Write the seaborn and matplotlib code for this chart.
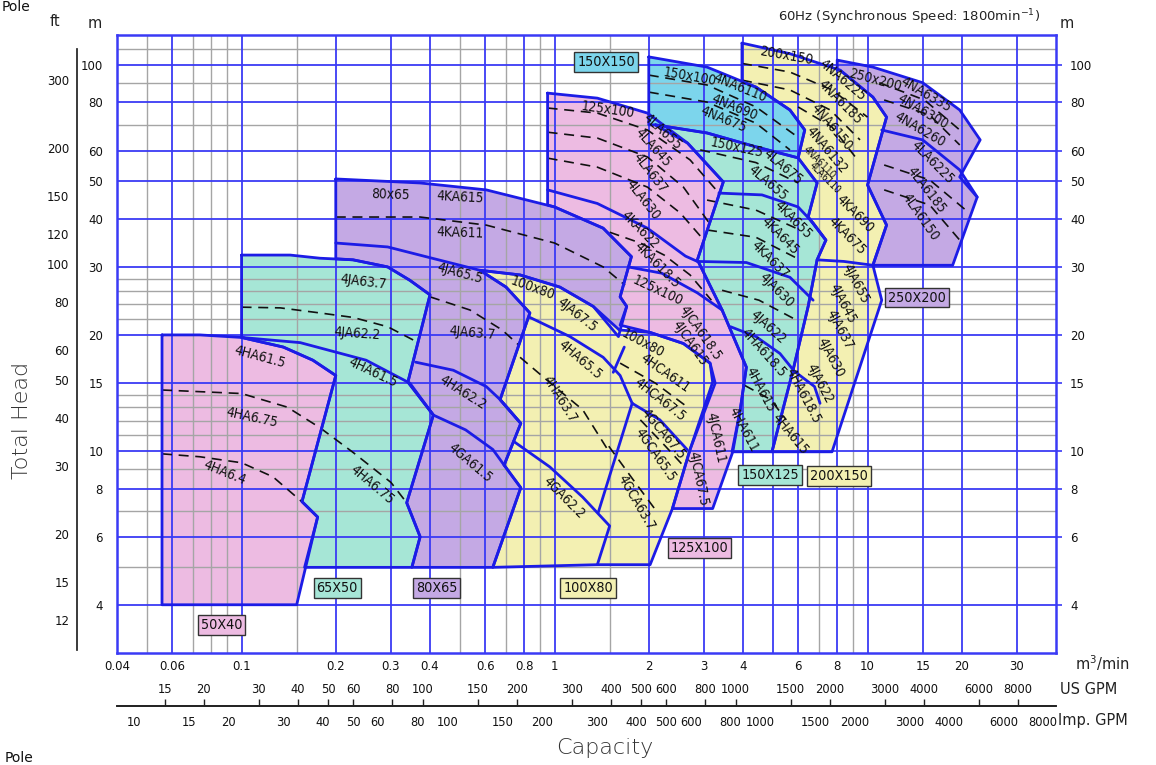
#!/usr/bin/env python3
"""Pump selection chart, 60 Hz / 4 pole: capacity against total head."""

import matplotlib
matplotlib.use("Agg")
import matplotlib.pyplot as plt
import seaborn as sns

sns.set_theme(style="white")
plt.rcParams["font.family"] = ["DejaVu Sans"]

# colours
PINK = "#EDBBE2"
TEAL = "#A6E6D6"
PURPLE = "#C4A9E4"
YELLOW = "#F3F0B2"
SKY = "#7CD5EC"
LINE = "#1C1CE6"
GRID_BLUE = "#3A3AF5"
GRID_GREY = "#A5A5A5"
LABEL_FONT = ["DejaVu Sans"]

M_TO_FT = 3.28084
M3MIN_TO_USGPM = 264.172
M3MIN_TO_IMPGPM = 219.969

# ---- axes scales --------------------------------------------------------
Q_BLUE = [0.06, 0.1, 0.2, 0.3, 0.4, 0.6, 0.8, 1, 2, 3, 4, 5, 6, 8, 10, 15, 20, 30]
Q_GREY = [0.05, 0.07, 0.08, 0.09, 0.15, 0.5, 0.7, 0.9, 1.5, 7, 9]
H_BLUE = [4, 6, 8, 10, 15, 20, 30, 40, 50, 60, 80, 100]
H_GREY = [5, 7, 9, 11, 12, 13, 14, 22, 24, 26, 28, 70, 90, 110]
Q_TICKS = [0.04, 0.06, 0.1, 0.2, 0.3, 0.4, 0.6, 0.8, 1, 2, 3, 4, 6, 8, 10, 15, 20, 30]
Q_LABELS = ["0.04", "0.06", "0.1", "0.2", "0.3", "0.4", "0.6", "0.8", "1", "2", "3",
            "4", "6", "8", "10", "15", "20", "30"]
H_TICKS = [4, 6, 8, 10, 15, 20, 30, 40, 50, 60, 80, 100]
FT_TICKS = [12, 15, 20, 30, 40, 50, 60, 80, 100, 120, 150, 200, 300]
US_GPM_TICKS = [15, 20, 30, 40, 50, 60, 80, 100, 150, 200, 300, 400, 500, 600, 800,
                1000, 1500, 2000, 3000, 4000, 6000, 8000]
IMP_GPM_TICKS = [10, 15, 20, 30, 40, 50, 60, 80, 100, 150, 200, 300, 400, 500, 600,
                 800, 1000, 1500, 2000, 3000, 4000, 6000, 8000]

# ---- 50X40 (capacity m3/min, head m) --------------------------------------
A50_AREA = [(0.0557, 20), (0.0736, 20), (0.1, 19.7), (0.136, 18.6), (0.169, 17.2),
            (0.2, 15.7), (0.156, 7.4), (0.175, 6.75), (0.15, 4.0), (0.0557, 4.0)]
A50_DASH_675 = [(0.0557, 14.4), (0.1, 14.1), (0.14, 13.0), (0.178, 11.5), (0.228, 9.9),
                (0.3, 8.3), (0.337, 7.35)]
A50_DASH_64 = [(0.0557, 9.84), (0.0736, 9.67), (0.1, 9.33), (0.126, 8.58), (0.156, 7.39)]

# ---- 65X50 --------------------------------------------------------------
B65_AREA = [(0.1, 32.2), (0.143, 32.2), (0.178, 31.6), (0.227, 31.3), (0.293, 30.0),
            (0.345, 27.7), (0.4, 25.4), (0.34, 15.1), (0.41, 12.4), (0.337, 7.35),
            (0.372, 6.0), (0.35, 5.0), (0.159, 5.0), (0.175, 6.75), (0.156, 7.4),
            (0.2, 15.7), (0.169, 17.2), (0.136, 18.6), (0.1, 19.7)]
B65_HA615 = [(0.1, 19.7), (0.154, 19.1), (0.25, 17.2), (0.345, 15.0), (0.41, 12.4)]
B65_DASH_JA622 = [(0.1, 23.6), (0.133, 23.5), (0.178, 22.8), (0.227, 22.2), (0.293, 21.0),
                  (0.367, 19.1)]

# ---- 80X65 --------------------------------------------------------------
C80_AREA = [(0.2, 50.7), (0.372, 49.5), (0.605, 47.5), (1.0, 42.9), (1.43, 37.8),
            (1.76, 31.9), (1.62, 25.1), (1.70, 23.7), (1.60, 19.8), (1.33, 23.7),
            (1.04, 26.6), (0.776, 28.6), (0.578, 29.4), (0.7, 26.6), (0.834, 22.8),
            (0.67, 13.6), (0.78, 11.8), (0.69, 9.2), (0.78, 8.04), (0.635, 5.0),
            (0.35, 5.0), (0.372, 6.0), (0.337, 7.35), (0.41, 12.4), (0.34, 15.1),
            (0.4, 25.4), (0.345, 27.7), (0.293, 30.0), (0.227, 31.3), (0.2, 31.5)]
C80_JA655 = [(0.2, 34.6), (0.293, 33.8), (0.4, 31.7), (0.578, 29.4)]
C80_HA622 = [(0.36, 17.0), (0.475, 16.2), (0.605, 14.7), (0.67, 13.6), (0.78, 11.8)]
C80_GA615 = [(0.41, 12.4), (0.52, 11.35), (0.635, 10.1), (0.69, 9.2)]
C80_DASH_KA611 = [(0.2, 40.4), (0.372, 40.4), (0.605, 38.5), (1.0, 34.6), (1.43, 30.0),
                  (1.68, 26.9)]
C80_DASH_JA637 = [(0.4, 25.1), (0.537, 23.2), (0.68, 20.6), (0.77, 18.8)]

# ---- 100X80 -------------------------------------------------------------
D100_AREA = [(0.578, 29.4), (0.776, 28.6), (1.04, 26.6), (1.33, 23.7), (1.61, 20.6),
             (2.02, 20.3), (2.58, 19.0), (3.14, 16.9), (3.26, 15.0), (2.71, 10.1),
             (2.38, 7.1), (2.02, 5.08), (1.37, 5.08), (0.635, 5.0), (0.78, 8.04),
             (0.69, 9.2), (0.78, 11.8), (0.67, 13.6), (0.834, 22.8), (0.7, 26.6)]
D100_HA655 = [(0.834, 22.2), (1.12, 19.8), (1.43, 17.5), (1.62, 15.7), (1.77, 13.3)]
D100_JA_EDGE = [(1.67, 18.6), (1.54, 16.0)]
D100_HA_EDGE = [(1.77, 13.3), (1.38, 6.95)]
D100_GA622 = [(0.74, 10.6), (0.966, 9.1), (1.23, 7.6), (1.5, 6.4), (1.37, 5.08)]
D100_GCA675 = [(1.77, 13.3), (2.17, 12.05), (2.65, 10.1)]
D100_DASH_HA637 = [(0.776, 17.5), (1.0, 14.7), (1.23, 12.8), (1.5, 9.9)]
D100_DASH_HCA675 = [(1.62, 16.9), (2.1, 15.0), (2.66, 13.0)]
D100_DASH_GCA655 = [(1.88, 12.05), (2.26, 10.3), (2.6, 9.1)]
D100_DASH_GCA637 = [(1.49, 10.3), (1.77, 8.5), (2.1, 7.05)]

# ---- 125X100 ------------------------------------------------------------
E125_AREA = [(0.95, 84.6), (1.37, 82.1), (1.98, 75.1), (2.66, 62.8), (3.46, 49.8),
             (2.86, 31.3), (3.43, 23.2), (4.1, 16.5), (3.92, 12.8), (3.71, 9.96),
             (3.2, 7.1), (2.38, 7.1), (2.71, 10.1), (3.2, 15.1), (3.14, 16.9),
             (2.58, 19.0), (2.02, 20.3), (1.62, 21.2), (1.70, 23.7), (1.62, 25.1),
             (1.76, 31.9), (1.43, 37.8), (1.0, 42.9), (0.95, 43.4)]
E125_KA622 = [(0.95, 47.5), (1.37, 43.8), (1.98, 37.8), (2.62, 32.0), (2.86, 31.0)]
E125_JCA = [(1.72, 30.0), (2.2, 28.9), (2.86, 25.7), (3.43, 23.2)]
E125_DASH_LA645 = [(0.95, 77.4), (1.37, 75.1), (1.98, 67.9), (2.71, 56.8), (3.35, 46.6)]
E125_DASH_LA637 = [(0.95, 67.0), (1.37, 64.7), (1.98, 57.8), (2.58, 48.3), (3.12, 39.0)]
E125_DASH_LA630 = [(0.95, 57.4), (1.37, 54.4), (1.98, 48.3), (2.52, 41.4), (3.0, 35.2)]
E125_DASH_KA6185 = [(1.5, 36.9), (1.88, 34.6), (2.24, 32.2), (2.71, 28.6), (3.17, 24.6)]

# ---- 150X100 ------------------------------------------------------------
F150_AREA = [(2.0, 105), (3.07, 98.8), (4.4, 87.7), (5.65, 76.5), (6.3, 67.9),
             (6.0, 57.5), (4.4, 61.4), (3.07, 66.7), (2.1, 70), (2.0, 70)]
F150_DASH_NA690 = [(2.0, 94.2), (3.07, 88.8), (4.4, 77.9), (6.0, 65.0)]
F150_DASH_NA675 = [(2.0, 85.1), (3.07, 80.2), (4.4, 70.7), (5.65, 60.3)]

# ---- 150X125 ------------------------------------------------------------
G150_AREA = [(2.1, 70), (3.07, 66.7), (4.4, 61.4), (6.0, 57.5), (6.9, 49.5),
             (6.46, 40.4), (7.36, 35.2), (6.9, 31.3), (6.46, 23.7), (5.78, 16.2),
             (4.95, 9.96), (3.69, 9.96), (3.92, 12.8), (4.1, 16.5), (3.43, 23.2),
             (2.86, 31.3), (3.46, 49.8), (2.66, 62.8)]
G150_KA655 = [(3.35, 46.6), (4.6, 46.1), (6.0, 42.9), (6.7, 39.0), (7.36, 35.2)]
G150_JA630 = [(2.86, 31.0), (4.1, 30.8), (5.65, 28.2), (6.7, 24.6)]
G150_HA6185 = [(3.65, 21.0), (4.4, 19.8), (5.25, 17.9), (5.8, 16.2)]
G150_DASH_LA655 = [(2.92, 60.3), (4.4, 55.9), (6.0, 49.5)]
G150_DASH_KA645 = [(3.07, 44.7), (4.4, 42.1), (6.08, 37.4)]
G150_DASH_KA637 = [(3.07, 37.4), (4.4, 35.8), (6.08, 31.3)]
G150_DASH_JA622 = [(3.43, 26.1), (4.5, 24.6), (5.9, 21.9)]
G150_DASH_HA615 = [(4.05, 14.8), (4.9, 13.6), (5.5, 12.05)]

# ---- 200X150 ------------------------------------------------------------
H200_AREA = [(3.97, 114), (5.65, 107), (8.17, 97), (10.4, 82.6), (11.5, 73.3),
             (10.0, 48.9), (11.5, 38.5), (10.4, 30.3), (11.1, 24.6), (7.7, 9.96),
             (4.95, 9.96), (5.78, 16.2), (6.46, 23.7), (6.9, 31.3), (7.36, 35.2),
             (6.46, 40.4), (6.9, 49.5), (6.0, 57.5), (6.3, 67.9), (5.65, 76.5),
             (4.4, 87.7), (3.97, 90.4)]
H200_JA655 = [(6.9, 31.3), (8.4, 31.0), (10.4, 30.3)]
H200_HA6185 = [(5.78, 16.2), (6.77, 14.7), (7.05, 13.3)]
H200_DASH_A = [(3.97, 101), (5.65, 95.9), (7.7, 86.2), (10.0, 73.3)]
H200_DASH_B = [(3.97, 91.4), (5.65, 86.2), (7.6, 76.5), (9.46, 64.0)]
H200_DASH_C = [(6.0, 77.9), (7.7, 69.1), (9.14, 57.8)]

# ---- 250X200 ------------------------------------------------------------
I250_AREA = [(8.0, 103), (10.4, 98.8), (15.0, 90), (19.7, 76.5), (22.9, 64),
             (19.7, 51.3), (22.4, 45.5), (18.7, 30.3), (10.4, 30.3), (11.5, 38.5),
             (10.0, 48.9), (11.5, 73.3), (10.4, 82.6), (8.17, 97), (8.0, 97)]
I250_LA6225 = [(11.1, 67.9), (15.0, 64), (19.7, 53.5), (22.4, 45.5)]
I250_DASH_NA6300 = [(10.9, 90), (15.2, 81.2), (19.7, 67.9)]
I250_DASH_NA6260 = [(11.3, 81.2), (15.8, 74.2), (19.7, 62.1)]
I250_DASH_LA6185 = [(11.3, 55.1), (15.8, 50.4), (20.6, 42.1)]
I250_DASH_LA6150 = [(11.3, 47.5), (15.8, 43.4), (19.7, 35.2)]

AREAS = [
    (A50_AREA, PINK), (B65_AREA, TEAL), (C80_AREA, PURPLE), (D100_AREA, YELLOW),
    (E125_AREA, PINK), (F150_AREA, SKY), (G150_AREA, TEAL), (H200_AREA, YELLOW),
    (I250_AREA, PURPLE),
]
SOLID_CURVES = [
    B65_HA615, C80_JA655, C80_HA622, C80_GA615, D100_HA655, D100_JA_EDGE,
    D100_HA_EDGE, D100_GA622, D100_GCA675, E125_KA622, E125_JCA, G150_KA655,
    G150_JA630, G150_HA6185, H200_JA655, H200_HA6185, I250_LA6225,
]
DASHED_CURVES = [
    A50_DASH_675, A50_DASH_64, B65_DASH_JA622, C80_DASH_KA611, C80_DASH_JA637,
    D100_DASH_HA637, D100_DASH_HCA675, D100_DASH_GCA655, D100_DASH_GCA637,
    E125_DASH_LA645, E125_DASH_LA637, E125_DASH_LA630,
    E125_DASH_KA6185, F150_DASH_NA690, F150_DASH_NA675, G150_DASH_LA655,
    G150_DASH_KA645, G150_DASH_KA637, G150_DASH_JA622, G150_DASH_HA615,
    H200_DASH_A, H200_DASH_B, H200_DASH_C, I250_DASH_NA6300, I250_DASH_NA6260,
    I250_DASH_LA6185, I250_DASH_LA6150,
]

# (text, capacity, head, rotation)
CURVE_LABELS = [
    ("4HA61.5", 0.1145, 17.5, -15), ("4HA6.75", 0.108, 12.2, -12), ("4HA6.4", 0.0886, 8.78, -22),
    ("4JA63.7", 0.245, 27.4, -7), ("4JA62.2", 0.234, 20.2, -4), ("4HA61.5", 0.262, 16.0, -25),
    ("4HA6.75", 0.262, 8.18, -40),
    ("80x65", 0.3, 46.1, -2), ("4KA615", 0.5, 45.5, -3), ("4KA611", 0.5, 36.7, -2),
    ("4JA65.5", 0.5, 28.9, -15), ("4JA63.7", 0.545, 20.2, -5), ("4HA62.2", 0.51, 14.2, -32),
    ("4GA61.5", 0.537, 9.32, -40),
    ("100x80", 0.85, 26.4, -20), ("4JA67.5", 1.18, 22.5, -38), ("4HA65.5", 1.206, 17.2, -40),
    ("4HA63.7", 1.04, 13.6, -58), ("4GA62.2", 1.07, 7.57, -45), ("100x80", 1.92, 19.0, -28),
    ("4HCA611", 2.26, 15.9, -35), ("4HCA67.5", 2.17, 13.6, -38), ("4GCA67.5", 2.22, 11.1, -50),
    ("4GCA65.5", 2.1, 9.78, -55), ("4GCA63.7", 1.83, 7.35, -60),
    ("125x100", 1.48, 76.5, -8), ("4LA655", 2.22, 67.1, -42), ("4LA645", 2.06, 61.0, -48),
    ("4LA637", 2.02, 52.6, -52), ("4LA630", 1.92, 44.7, -52), ("4KA622", 1.88, 37.4, -45),
    ("4KA618.5", 2.13, 30.3, -45), ("125x100", 2.13, 26.1, -25), ("4JCA618.5", 2.92, 20.2, -55),
    ("4JCA615", 2.71, 19.0, -55), ("4JCA611", 3.26, 10.8, -78), ("4JCA67.5", 2.88, 8.5, -78),
    ("150x100", 2.71, 93.1, -10), ("4NA6110", 3.92, 87.1, -22), ("4NA690", 3.75, 77.9, -22),
    ("4NA675", 3.46, 72.1, -22),
    ("150x125", 3.82, 61.0, -12), ("4LA675", 5.35, 54.5, -40), ("4LA655", 4.8, 49.5, -40),
    ("4KA655", 5.78, 39.7, -45), ("4KA645", 5.25, 36.0, -45), ("4KA637", 4.88, 31.3, -45),
    ("4JA630", 5.1, 26.1, -45), ("4JA622", 4.8, 21.0, -42), ("4HA618.5", 4.66, 18.0, -48),
    ("4HA615", 4.53, 14.4, -62), ("4HA611", 4.0, 11.35, -62),
    ("200x150", 5.5, 106, -10), ("4NA6225", 8.3, 91.4, -40), ("4NA6185", 8.17, 80, -45),
    ("4NA6150", 7.7, 69.1, -50), ("4NA6132", 7.4, 60.3, -50),
    ("4KA690", 9.14, 41.3, -45), ("4KA675", 8.6, 36.0, -45),
    ("4JA655", 9.14, 27.2, -62), ("4JA645", 8.35, 24.1, -62), ("4JA637", 8.17, 20.6, -62),
    ("4JA630", 7.6, 17.5, -62), ("4JA622", 7.05, 15.0, -62), ("4HA618.5", 6.25, 13.9, -62),
    ("4HA615", 5.65, 11.1, -50),
    ("250x200", 10.6, 91.4, -15), ("4NA6335", 15.4, 83.6, -30), ("4NA6300", 15.0, 75.6, -30),
    ("4NA6260", 14.7, 67.9, -30), ("4LA6225", 16.1, 55.8, -45), ("4LA6185", 15.4, 47.5, -52),
    ("4LA6150", 14.7, 40.4, -55),
]
# narrow strips where the reference uses a smaller lettering
SMALL_LABELS = [
    ("4NA6110", 7.0, 56.0, -45), ("4LA6110", 7.3, 51.0, -45),
]
# (text, capacity, head, fill)
SIZE_BOXES = [
    ("50X40", 0.0864, 3.55, PINK), ("65X50", 0.202, 4.43, TEAL), ("80X65", 0.42, 4.43, PURPLE),
    ("100X80", 1.28, 4.43, YELLOW), ("125X100", 2.9, 5.6, PINK), ("150X125", 4.88, 8.68, TEAL),
    ("200X150", 8.1, 8.63, YELLOW), ("250X200", 14.4, 25.0, PURPLE), ("150X150", 1.46, 101.8, SKY),
]


def _xs(pts):
    return [p[0] for p in pts]


def _ys(pts):
    return [p[1] for p in pts]


def _draw_chart(ax):
    for pts, colour in AREAS:
        ax.fill(_xs(pts), _ys(pts), color=colour, lw=0, zorder=1)
    for v in Q_GREY:
        ax.axvline(v, color=GRID_GREY, lw=1.0, zorder=2)
    for v in H_GREY:
        ax.axhline(v, color=GRID_GREY, lw=1.0, zorder=2)
    for v in Q_BLUE:
        ax.axvline(v, color=GRID_BLUE, lw=1.3, zorder=2.1)
    for v in H_BLUE:
        ax.axhline(v, color=GRID_BLUE, lw=1.3, zorder=2.1)

    for pts, _ in AREAS:
        closed = pts + pts[:1]
        sns.lineplot(x=_xs(closed), y=_ys(closed), sort=False, estimator=None,
                     color=LINE, lw=2.0, ax=ax, zorder=4)
    for pts in SOLID_CURVES:
        sns.lineplot(x=_xs(pts), y=_ys(pts), sort=False, estimator=None,
                     color=LINE, lw=2.0, ax=ax, zorder=4)
    for pts in DASHED_CURVES:
        sns.lineplot(x=_xs(pts), y=_ys(pts), sort=False, estimator=None,
                     color="#111111", lw=1.2, linestyle=(0, (6, 4)), ax=ax, zorder=3)

    for text, q, h, rot in CURVE_LABELS:
        ax.text(q, h, text, rotation=rot, rotation_mode="anchor", ha="center", va="center",
                fontsize=9.8, family=LABEL_FONT, fontstretch="condensed", color="#111111",
                zorder=6)
    for text, q, h, rot in SMALL_LABELS:
        ax.text(q, h, text, rotation=rot, rotation_mode="anchor", ha="center", va="center",
                fontsize=7.2, family=LABEL_FONT, fontstretch="condensed", color="#111111",
                zorder=6)
    for text, q, h, colour in SIZE_BOXES:
        ax.text(q, h, text, ha="center", va="center", fontsize=10.3, family=LABEL_FONT,
                fontstretch="condensed", color="#111111", zorder=7,
                bbox=dict(boxstyle="square,pad=0.2", fc=colour, ec="#333333", lw=1.0))


def main():
    fig = plt.figure(figsize=(11.56, 7.65), dpi=100)
    left, width = 117 / 1156, 939 / 1156
    bottom, height = 1 - 653 / 765, 618.5 / 765
    ax = fig.add_axes([left, bottom, width, height])
    ax.set_xscale("log")
    ax.set_yscale("log")
    ax.set_xlim(0.04, 40)
    ax.set_ylim(3, 120)
    _draw_chart(ax)

    ax.set_xticks(Q_TICKS)
    ax.set_xticklabels(Q_LABELS)
    ax.xaxis.set_minor_locator(matplotlib.ticker.NullLocator())
    ax.yaxis.set_minor_locator(matplotlib.ticker.NullLocator())
    ax.set_yticks(H_TICKS)
    ax.set_yticklabels([str(v) for v in H_TICKS])
    ax.tick_params(axis="x", bottom=False, length=0, pad=5, labelsize=8.5, colors="#111111")
    ax.tick_params(axis="y", left=False, right=True, labelleft=True, labelright=True,
                   length=4, width=1.2, color=GRID_BLUE, pad=2, labelsize=8.5,
                   labelcolor="#111111")
    ax.tick_params(axis="y", which="major", pad=6)
    for spine in ax.spines.values():
        spine.set_color(GRID_BLUE)
        spine.set_linewidth(1.8)
        spine.set_zorder(5)
    ax.set_xlabel("")
    ax.set_ylabel("")

    # feet scale on the far left
    ax_ft = fig.add_axes([77 / 1156, bottom, 0.0001, height])
    ax_ft.set_yscale("log")
    ax_ft.set_ylim(3 * M_TO_FT, 120 * M_TO_FT)
    ax_ft.set_xticks([])
    ax_ft.yaxis.set_minor_locator(matplotlib.ticker.NullLocator())
    ax_ft.set_yticks(FT_TICKS)
    ax_ft.set_yticklabels([str(v) for v in FT_TICKS])
    ax_ft.tick_params(axis="y", length=4, width=1, color="#222222", pad=1.5, labelsize=8.5,
                      labelcolor="#111111")
    for name, spine in ax_ft.spines.items():
        spine.set_visible(name == "left")
    ax_ft.spines["left"].set_color("#222222")
    ax_ft.spines["left"].set_bounds(3.05 * M_TO_FT, 110 * M_TO_FT)
    ax_ft.patch.set_visible(False)

    # gallon scales under the capacity axis
    line_y = 1 - 706 / 765
    ax_us = fig.add_axes([left, line_y, width, 0.0001])
    ax_us.set_xscale("log")
    ax_us.set_xlim(0.04 * M3MIN_TO_USGPM, 40 * M3MIN_TO_USGPM)
    ax_us.set_yticks([])
    ax_us.xaxis.set_ticks_position("top")
    ax_us.xaxis.set_minor_locator(matplotlib.ticker.NullLocator())
    ax_us.set_xticks(US_GPM_TICKS)
    ax_us.set_xticklabels([str(v) for v in US_GPM_TICKS])
    ax_us.tick_params(axis="x", top=True, bottom=False, labeltop=True, labelbottom=False,
                      length=5, width=1, color="#222222", pad=2, labelsize=8.3,
                      labelcolor="#111111")
    for name, spine in ax_us.spines.items():
        spine.set_visible(name == "top")
    ax_us.spines["top"].set_color("#222222")
    ax_us.patch.set_visible(False)

    ax_imp = fig.add_axes([left, line_y, width, 0.0001])
    ax_imp.set_xscale("log")
    ax_imp.set_xlim(0.04 * M3MIN_TO_IMPGPM, 40 * M3MIN_TO_IMPGPM)
    ax_imp.set_yticks([])
    ax_imp.xaxis.set_minor_locator(matplotlib.ticker.NullLocator())
    ax_imp.set_xticks(IMP_GPM_TICKS)
    ax_imp.set_xticklabels([str(v) for v in IMP_GPM_TICKS])
    ax_imp.tick_params(axis="x", length=5, width=1, color="#222222", pad=2, labelsize=8.3,
                       labelcolor="#111111")
    for name, spine in ax_imp.spines.items():
        spine.set_visible(name == "bottom")
    ax_imp.spines["bottom"].set_color("#222222")
    ax_imp.patch.set_visible(False)

    # free text
    fig.text(1075 / 1156, 1 - 663 / 765, r"m$^3$/min", fontsize=10.5, va="center", ha="left",
             color="#222222")
    fig.text(1060 / 1156, 1 - 689 / 765, "US GPM", fontsize=10.5, va="center", ha="left",
             color="#222222")
    fig.text(1058 / 1156, 1 - 720 / 765, "Imp. GPM", fontsize=10.5, va="center", ha="left",
             color="#222222")
    fig.text(605 / 1156, 1 - 748 / 765, "Capacity", fontsize=16, ha="center", va="center",
             color="#333333", fontweight="light")
    fig.text(22 / 1156, 1 - 420 / 765, "Total Head", fontsize=16, ha="center", va="center",
             rotation=90, color="#333333", fontweight="light")
    fig.text(55 / 1156, 1 - 22 / 765, "ft", fontsize=10.5, ha="center", va="center",
             color="#222222")
    fig.text(95 / 1156, 1 - 24 / 765, "m", fontsize=10.5, ha="center", va="center",
             color="#222222")
    fig.text(1067 / 1156, 1 - 24 / 765, "m", fontsize=10.5, ha="center", va="center",
             color="#222222")
    fig.text(1040 / 1156, 1 - 17 / 765, r"60Hz (Synchronous Speed: 1800min$^{-1}$)",
             fontsize=9.5, ha="right", va="center", color="#222222")
    fig.text(2 / 1156, 1.0, "Pole", fontsize=10, ha="left", va="top", color="#111111")
    fig.text(5 / 1156, 0.0, "Pole", fontsize=10, ha="left", va="bottom", color="#111111")

    fig.savefig("out.png", dpi=100)
    plt.close(fig)


if __name__ == "__main__":
    main()
